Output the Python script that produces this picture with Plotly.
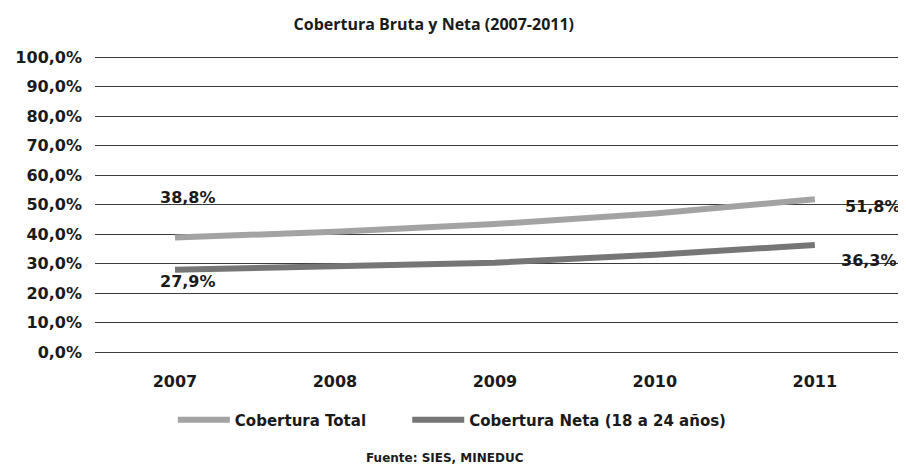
import plotly.graph_objects as go

# data
years = ['2007', '2008', '2009', '2010', '2011']
cobertura_total = [38.8, 40.8, 43.4, 47.0, 51.8]
cobertura_neta = [27.9, 29.0, 30.3, 33.0, 36.3]
y_ticks = [0, 10, 20, 30, 40, 50, 60, 70, 80, 90, 100]
y_tick_labels = ['0,0%', '10,0%', '20,0%', '30,0%', '40,0%', '50,0%',
                 '60,0%', '70,0%', '80,0%', '90,0%', '100,0%']

TOTAL_COLOR = '#a3a3a3'
NETA_COLOR = '#767676'
TEXT_COLOR = '#1a1a1a'
FONT = 'DejaVu Sans'


def pct(v):
    return f'{v:.1f}'.replace('.', ',') + '%'


fig = go.Figure()

fig.add_trace(go.Scatter(x=years, y=cobertura_total, mode='lines',
                         line=dict(color=TOTAL_COLOR, width=6),
                         name='Cobertura Total', legend='legend'))
fig.add_trace(go.Scatter(x=years, y=cobertura_neta, mode='lines',
                         line=dict(color=NETA_COLOR, width=6),
                         name='Cobertura Neta (18 a 24 años)', legend='legend2'))

# point labels on first and last values (category index positions)
first, last = 0, len(years) - 1
label_font = dict(family=FONT, size=16, color=TEXT_COLOR, weight='bold')
fig.add_annotation(x=first, y=cobertura_total[first], text=pct(cobertura_total[first]),
                   showarrow=False, xshift=13, yshift=40, font=label_font)
fig.add_annotation(x=first, y=cobertura_neta[first], text=pct(cobertura_neta[first]),
                   showarrow=False, xshift=13, yshift=-12, font=label_font)
fig.add_annotation(x=last, y=cobertura_total[last], text=pct(cobertura_total[last]),
                   showarrow=False, xshift=58, yshift=-7, font=label_font)
fig.add_annotation(x=last, y=cobertura_neta[last], text=pct(cobertura_neta[last]),
                   showarrow=False, xshift=54, yshift=-16, font=label_font)

# source line
fig.add_annotation(xref='paper', yref='paper', x=0.4316, y=-0.39,
                   text='Fuente: SIES, MINEDUC', showarrow=False,
                   font=dict(family=FONT, size=12, color=TEXT_COLOR, weight='bold'))

legend_font = dict(family=FONT, size=15, color=TEXT_COLOR, weight='bold')
fig.update_layout(
    width=906, height=471,
    margin=dict(l=87, r=8, t=48, b=127),
    paper_bgcolor='white', plot_bgcolor='white',
    title=dict(text='Cobertura Bruta y Neta (2007-2011)', x=0.47, xanchor='center',
               y=0.966, yanchor='middle',
               font=dict(family='Open Sans', size=16, color=TEXT_COLOR, weight='bold')),
    legend=dict(orientation='h', x=0.096, xanchor='left', y=-0.23, yanchor='middle',
                font=legend_font, itemwidth=52),
    legend2=dict(orientation='h', x=0.385, xanchor='left', y=-0.23, yanchor='middle',
                 font=legend_font, itemwidth=52),
    showlegend=True,
)

fig.update_xaxes(type='category', range=[-0.5, 4.57], showgrid=False, showline=False,
                 automargin=False, ticks='',
                 tickfont=dict(family=FONT, size=16, color=TEXT_COLOR, weight='bold'),
                 ticklabelstandoff=18)
fig.update_yaxes(range=[0, 100.4], tickvals=y_ticks, ticktext=y_tick_labels,
                 automargin=False,
                 showgrid=True, gridcolor='#3c3c3c', gridwidth=1,
                 zeroline=True, zerolinecolor='#3c3c3c', zerolinewidth=1,
                 tickfont=dict(family=FONT, size=16, color=TEXT_COLOR, weight='bold'),
                 ticklabelstandoff=12)

fig.write_html('out.html')
